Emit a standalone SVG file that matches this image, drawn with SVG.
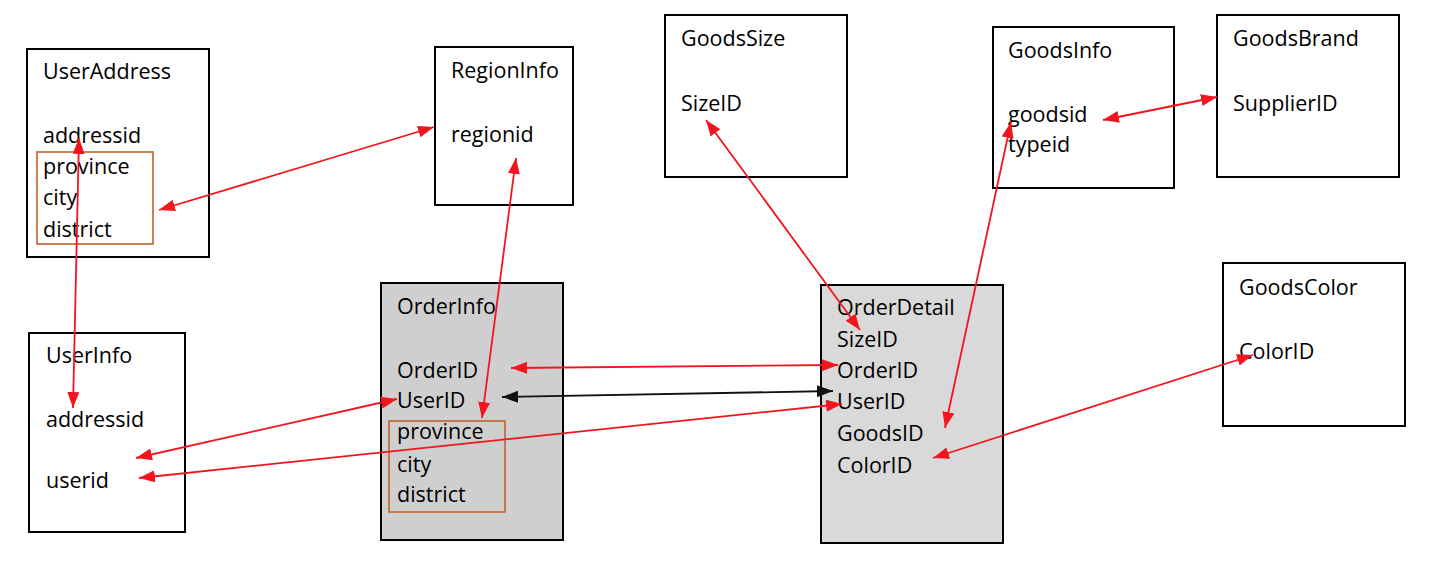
<svg xmlns="http://www.w3.org/2000/svg" width="1430" height="574" viewBox="0 0 1430 574">
<style>
.box{fill:#fff;stroke:#000;stroke-width:2}
.gray1{fill:#d0cfd0;stroke:#000;stroke-width:2}
.gray2{fill:#d9d9d9;stroke:#000;stroke-width:2}
.sub{fill:none;stroke:#c0632b;stroke-width:1.6}
text{font-family:"Open Sans","Liberation Sans",sans-serif;font-size:21.5px;fill:#000}
.r{stroke:#f4141e;stroke-width:1.8;fill:none;marker-start:url(#ar);marker-end:url(#ar)}
.k{stroke:#111;stroke-width:1.8;fill:none;marker-start:url(#ak);marker-end:url(#ak)}
</style>
<defs>
<marker id="ar" markerUnits="userSpaceOnUse" markerWidth="17" markerHeight="13" refX="16" refY="6" orient="auto-start-reverse"><path d="M0,0 L16,6 L0,12 z" fill="#f4141e"/></marker>
<marker id="ak" markerUnits="userSpaceOnUse" markerWidth="17" markerHeight="13" refX="16" refY="6" orient="auto-start-reverse"><path d="M0,0 L16,6 L0,12 z" fill="#111"/></marker>
</defs>
<rect width="1430" height="574" fill="#fff"/>
<g id="UserAddress">
<rect class="box" x="27" y="49" width="182" height="208"/>
<rect class="sub" x="37" y="152" width="116" height="92"/>
<text x="43" y="79">UserAddress</text>
<text x="43" y="143">addressid</text>
<text x="43" y="174">province</text>
<text x="43" y="205">city</text>
<text x="43" y="237">district</text>
</g>
<g id="UserInfo">
<rect class="box" x="29" y="333" width="156" height="199"/>
<text x="46" y="363">UserInfo</text>
<text x="46" y="427">addressid</text>
<text x="46" y="488">userid</text>
</g>
<g id="RegionInfo">
<rect class="box" x="435" y="47" width="138" height="158"/>
<text x="451" y="78">RegionInfo</text>
<text x="451" y="142">regionid</text>
</g>
<g id="GoodsSize">
<rect class="box" x="665" y="15" width="182" height="162"/>
<text x="681" y="46">GoodsSize</text>
<text x="681" y="111">SizeID</text>
</g>
<g id="GoodsInfo">
<rect class="box" x="993" y="27" width="181" height="161"/>
<text x="1008" y="58">GoodsInfo</text>
<text x="1008" y="122">goodsid</text>
<text x="1008" y="152">typeid</text>
</g>
<g id="GoodsBrand">
<rect class="box" x="1217" y="15" width="182" height="162"/>
<text x="1233" y="46">GoodsBrand</text>
<text x="1233" y="111">SupplierID</text>
</g>
<g id="GoodsColor">
<rect class="box" x="1223" y="263" width="182" height="163"/>
<text x="1239" y="295">GoodsColor</text>
<text x="1239" y="359">ColorID</text>
</g>
<g id="OrderInfo">
<rect class="gray1" x="381" y="283" width="182" height="257"/>
<rect class="sub" x="389" y="421" width="116" height="91"/>
<text x="397" y="314">OrderInfo</text>
<text x="397" y="378">OrderID</text>
<text x="397" y="408">UserID</text>
<text x="397" y="439">province</text>
<text x="397" y="472">city</text>
<text x="397" y="502">district</text>
</g>
<g id="OrderDetail">
<rect class="gray2" x="821" y="285" width="182" height="258"/>
<text x="837" y="315">OrderDetail</text>
<text x="837" y="347">SizeID</text>
<text x="837" y="378">OrderID</text>
<text x="837" y="409">UserID</text>
<text x="837" y="441">GoodsID</text>
<text x="837" y="473">ColorID</text>
</g>
<g id="connectors">
<line class="r" x1="79" y1="138" x2="73" y2="408"/>
<line class="r" x1="159" y1="210" x2="434" y2="127"/>
<line class="r" x1="516" y1="158" x2="482" y2="418"/>
<line class="r" x1="706" y1="120" x2="860" y2="330"/>
<line class="r" x1="1011" y1="122" x2="945" y2="428"/>
<line class="r" x1="1103" y1="120" x2="1217" y2="97"/>
<line class="r" x1="933" y1="458" x2="1253" y2="355"/>
<line class="r" x1="511" y1="368" x2="838" y2="365"/>
<line class="k" x1="502" y1="397" x2="833" y2="391"/>
<line class="r" x1="139" y1="478" x2="842" y2="404"/>
<line class="r" x1="136" y1="458" x2="397" y2="399"/>
</g>
</svg>
